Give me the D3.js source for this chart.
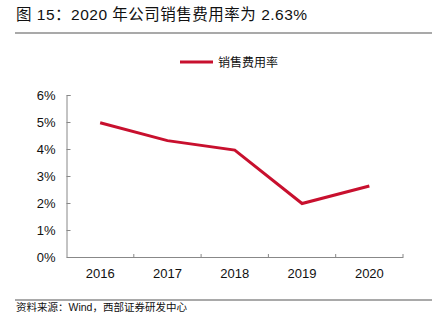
<!DOCTYPE html>
<html>
<head>
<meta charset="utf-8">
<script src="https://cdn.jsdelivr.net/npm/d3@7"></script>
<style>
  html, body { margin: 0; padding: 0; background: #fff; }
  svg { display: block; }
</style>
</head>
<body>
<svg id="chart" width="443" height="330"></svg>
<script>
// Selling expense ratio by year
const years = ["2016", "2017", "2018", "2019", "2020"];
const sellingRatio = [4.97, 4.31, 3.96, 1.98, 2.63];
const yTicks = [0, 1, 2, 3, 4, 5, 6];
const seriesName = "销售费用率";
const titleText = "图 15：2020 年公司销售费用率为 2.63%";
const sourceText = "资料来源：Wind，西部证券研发中心";

const svg = d3.select("#chart");
const latin = "'Liberation Sans', Arial, sans-serif";
const cjk = "'Liberation Sans', 'Noto Sans CJK SC', sans-serif";

// Header and footer
svg.append("text")
  .attr("x", 16).attr("y", 20)
  .attr("font-family", cjk).attr("font-size", 15.5)
  .attr("letter-spacing", 0.5)
  .attr("fill", "#111")
  .text(titleText);
svg.append("line")
  .attr("x1", 15).attr("x2", 432).attr("y1", 33).attr("y2", 33)
  .attr("stroke", "#555").attr("stroke-width", 1.2);
svg.append("line")
  .attr("x1", 15).attr("x2", 432).attr("y1", 300).attr("y2", 300)
  .attr("stroke", "#555").attr("stroke-width", 1.2);
svg.append("text")
  .attr("x", 16).attr("y", 311)
  .attr("font-family", cjk).attr("font-size", 10.5)
  .attr("fill", "#111")
  .text(sourceText);

// Plot area
const plotLeft = 66.5, plotRight = 403, plotTop = 95, plotBottom = 257;
const x = d3.scaleBand().domain(years).range([plotLeft, plotRight]);
const y = d3.scaleLinear().domain([0, 6]).range([plotBottom, plotTop]);

const yAxis = d3.axisLeft(y).tickValues(yTicks)
  .tickFormat(d => d + "%").tickSizeInner(-4).tickSizeOuter(-4).tickPadding(11);
const gy = svg.append("g").attr("transform", `translate(${plotLeft},0)`).call(yAxis);
gy.select(".domain").attr("stroke", "#888");
gy.selectAll(".tick line").attr("stroke", "#888");
gy.selectAll(".tick text").attr("font-family", latin).attr("font-size", 13).attr("fill", "#111");

const xAxis = d3.axisBottom(x).tickSize(0).tickPadding(12);
const gx = svg.append("g").attr("transform", `translate(0,${plotBottom})`).call(xAxis);
gx.select(".domain").attr("stroke", "#888");
gx.selectAll(".tick text").attr("font-family", latin).attr("font-size", 13).attr("fill", "#111");
// Category boundary ticks pointing up into the plot
const bounds = years.map(d => x(d)).concat([x(years[years.length - 1]) + x.bandwidth()]).slice(1);
gx.selectAll(".bound").data(bounds).enter().append("line")
  .attr("class", "bound")
  .attr("x1", d => d).attr("x2", d => d)
  .attr("y1", 0).attr("y2", -3)
  .attr("stroke", "#888");

// Series line
const line = d3.line()
  .x((d, i) => x(years[i]) + x.bandwidth() / 2)
  .y(d => y(d));
svg.append("path")
  .datum(sellingRatio)
  .attr("d", line)
  .attr("fill", "none")
  .attr("stroke", "#C8102E")
  .attr("stroke-width", 3);

// Legend
svg.append("line")
  .attr("x1", 180).attr("x2", 213).attr("y1", 62).attr("y2", 62)
  .attr("stroke", "#C8102E").attr("stroke-width", 3);
svg.append("text")
  .attr("x", 218).attr("y", 66.5)
  .attr("font-family", cjk).attr("font-size", 12)
  .attr("fill", "#111")
  .text(seriesName);
</script>
</body>
</html>
